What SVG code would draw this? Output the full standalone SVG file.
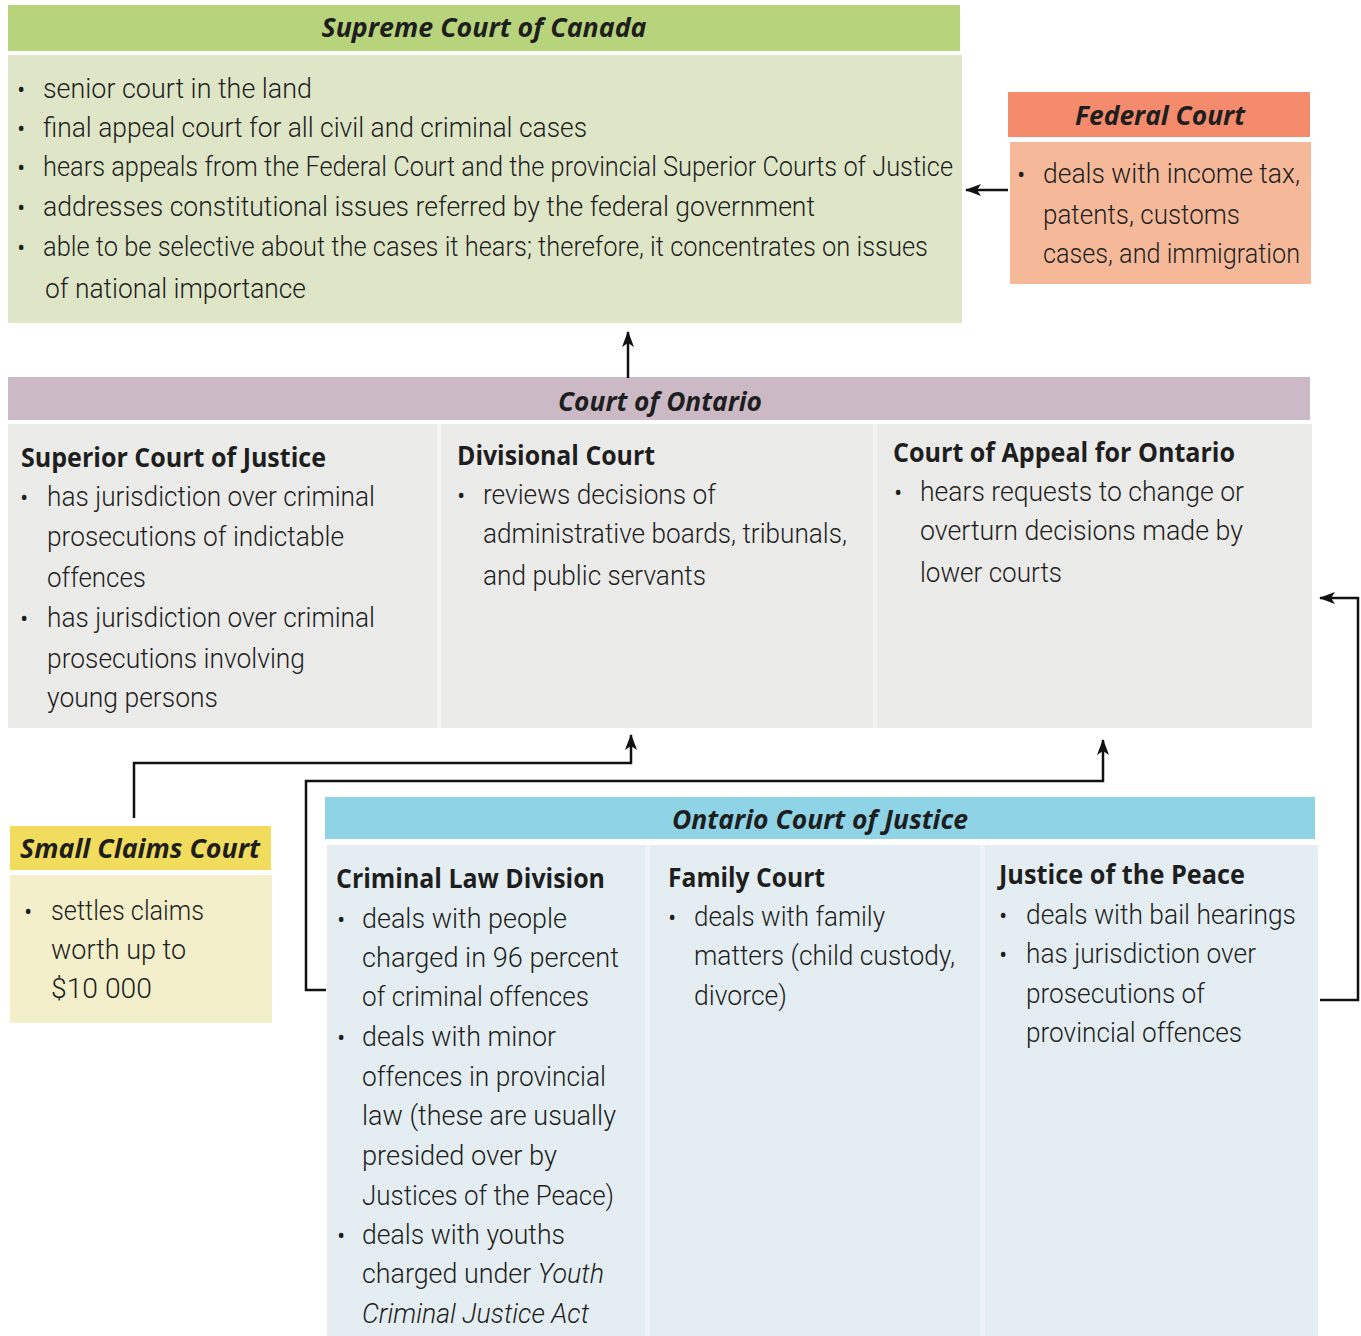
<svg xmlns="http://www.w3.org/2000/svg" width="1361" height="1336" viewBox="0 0 1361 1336">
<defs>
<marker id="ah" viewBox="0 0 16 12" refX="15" refY="6" markerWidth="16" markerHeight="12" markerUnits="userSpaceOnUse" orient="auto">
<path d="M0,0 L16,6 L0,12 L4,6 Z" fill="#111"/>
</marker>
<style>
text{fill:#1e1e1e;font-family:"Open Sans","Liberation Sans",sans-serif}
.b{font-family:Roboto,"Open Sans",sans-serif;font-size:27px;font-weight:300}
.t{font-size:27px;font-weight:700;font-style:italic;text-anchor:middle}
.h{font-size:26px;font-weight:700}
.d{font-size:22px}
.c{fill:none;stroke:#111;stroke-width:2.5}
</style>
</defs>
<rect width="1361" height="1336" fill="#ffffff"/>

<g id="supreme">
<rect x="8" y="5" width="952" height="46" fill="#b7d47c"/>
<rect x="8" y="55" width="954" height="268" fill="#dfe6c8"/>
<text class="t" x="484" y="37" textLength="325" lengthAdjust="spacingAndGlyphs">Supreme Court of Canada</text>
<text class="d" x="17" y="97">•</text>
<text class="b" x="43" y="98" textLength="269" lengthAdjust="spacingAndGlyphs">senior court in the land</text>
<text class="d" x="17" y="136">•</text>
<text class="b" x="43" y="137" textLength="544" lengthAdjust="spacingAndGlyphs">final appeal court for all civil and criminal cases</text>
<text class="d" x="17" y="175">•</text>
<text class="b" x="43" y="176" textLength="910" lengthAdjust="spacingAndGlyphs">hears appeals from the Federal Court and the provincial Superior Courts of Justice</text>
<text class="d" x="17" y="215">•</text>
<text class="b" x="43" y="216" textLength="772" lengthAdjust="spacingAndGlyphs">addresses constitutional issues referred by the federal government</text>
<text class="d" x="17" y="255">•</text>
<text class="b" x="43" y="256" textLength="885" lengthAdjust="spacingAndGlyphs">able to be selective about the cases it hears; therefore, it concentrates on issues</text>
<text class="b" x="45" y="298" textLength="261" lengthAdjust="spacingAndGlyphs">of national importance</text>
</g>

<g id="federal">
<rect x="1008" y="92" width="302" height="45" fill="#f38b6c"/>
<rect x="1010" y="142" width="301" height="142" fill="#f5b999"/>
<text class="t" x="1160" y="125" textLength="170" lengthAdjust="spacingAndGlyphs">Federal Court</text>
<text class="d" x="1017" y="182">•</text>
<text class="b" x="1043" y="183" textLength="257" lengthAdjust="spacingAndGlyphs">deals with income tax,</text>
<text class="b" x="1043" y="224" textLength="197" lengthAdjust="spacingAndGlyphs">patents, customs</text>
<text class="b" x="1043" y="263" textLength="257" lengthAdjust="spacingAndGlyphs">cases, and immigration</text>
</g>

<g id="court-of-ontario">
<rect x="8" y="377" width="1302" height="43" fill="#cbbac6"/>
<rect x="8" y="424" width="1304" height="304" fill="#ebebe9"/>
<rect x="437" y="424" width="4" height="304" fill="#f3f3f1"/>
<rect x="873" y="424" width="4" height="304" fill="#f3f3f1"/>
<text class="t" x="660" y="411" textLength="204" lengthAdjust="spacingAndGlyphs">Court of Ontario</text>
</g>

<g id="superior-court">
<text class="h" x="21" y="467" textLength="305" lengthAdjust="spacingAndGlyphs">Superior Court of Justice</text>
<text class="d" x="20" y="505">•</text>
<text class="b" x="47" y="506" textLength="328" lengthAdjust="spacingAndGlyphs">has jurisdiction over criminal</text>
<text class="b" x="47" y="546" textLength="297" lengthAdjust="spacingAndGlyphs">prosecutions of indictable</text>
<text class="b" x="47" y="587" textLength="99" lengthAdjust="spacingAndGlyphs">offences</text>
<text class="d" x="20" y="626">•</text>
<text class="b" x="47" y="627" textLength="328" lengthAdjust="spacingAndGlyphs">has jurisdiction over criminal</text>
<text class="b" x="47" y="668" textLength="258" lengthAdjust="spacingAndGlyphs">prosecutions involving</text>
<text class="b" x="47" y="707" textLength="171" lengthAdjust="spacingAndGlyphs">young persons</text>
</g>

<g id="divisional-court">
<text class="h" x="457" y="465" textLength="198" lengthAdjust="spacingAndGlyphs">Divisional Court</text>
<text class="d" x="457" y="503">•</text>
<text class="b" x="483" y="504" textLength="233" lengthAdjust="spacingAndGlyphs">reviews decisions of</text>
<text class="b" x="483" y="543" textLength="364" lengthAdjust="spacingAndGlyphs">administrative boards, tribunals,</text>
<text class="b" x="483" y="585" textLength="223" lengthAdjust="spacingAndGlyphs">and public servants</text>
</g>

<g id="court-of-appeal">
<text class="h" x="893" y="462" textLength="342" lengthAdjust="spacingAndGlyphs">Court of Appeal for Ontario</text>
<text class="d" x="894" y="500">•</text>
<text class="b" x="920" y="501" textLength="324" lengthAdjust="spacingAndGlyphs">hears requests to change or</text>
<text class="b" x="920" y="540" textLength="323" lengthAdjust="spacingAndGlyphs">overturn decisions made by</text>
<text class="b" x="920" y="582" textLength="142" lengthAdjust="spacingAndGlyphs">lower courts</text>
</g>

<g id="ontario-court-of-justice">
<rect x="325" y="797" width="990" height="42" fill="#8fd4e6"/>
<rect x="327" y="845" width="991" height="491" fill="#e4eef2"/>
<rect x="645" y="845" width="5" height="491" fill="#edf3f6"/>
<rect x="980" y="845" width="5" height="491" fill="#edf3f6"/>
<text class="t" x="820" y="829" textLength="296" lengthAdjust="spacingAndGlyphs">Ontario Court of Justice</text>
</g>

<g id="criminal-law-division">
<text class="h" x="336" y="888" textLength="269" lengthAdjust="spacingAndGlyphs">Criminal Law Division</text>
<text class="d" x="337" y="927">•</text>
<text class="b" x="362" y="928" textLength="205" lengthAdjust="spacingAndGlyphs">deals with people</text>
<text class="b" x="362" y="967" textLength="257" lengthAdjust="spacingAndGlyphs">charged in 96 percent</text>
<text class="b" x="362" y="1006" textLength="227" lengthAdjust="spacingAndGlyphs">of criminal offences</text>
<text class="d" x="337" y="1045">•</text>
<text class="b" x="362" y="1046" textLength="194" lengthAdjust="spacingAndGlyphs">deals with minor</text>
<text class="b" x="362" y="1086" textLength="244" lengthAdjust="spacingAndGlyphs">offences in provincial</text>
<text class="b" x="362" y="1125" textLength="254" lengthAdjust="spacingAndGlyphs">law (these are usually</text>
<text class="b" x="362" y="1165" textLength="195" lengthAdjust="spacingAndGlyphs">presided over by</text>
<text class="b" x="362" y="1205" textLength="252" lengthAdjust="spacingAndGlyphs">Justices of the Peace)</text>
<text class="d" x="337" y="1243">•</text>
<text class="b" x="362" y="1244" textLength="203" lengthAdjust="spacingAndGlyphs">deals with youths</text>
<text class="b" x="362" y="1283" textLength="242" lengthAdjust="spacingAndGlyphs">charged under <tspan font-style="italic">Youth</tspan></text>
<text class="b" x="362" y="1323" font-style="italic" textLength="227" lengthAdjust="spacingAndGlyphs">Criminal Justice Act</text>
</g>

<g id="family-court">
<text class="h" x="668" y="887" textLength="157" lengthAdjust="spacingAndGlyphs">Family Court</text>
<text class="d" x="668" y="925">•</text>
<text class="b" x="694" y="926" textLength="191" lengthAdjust="spacingAndGlyphs">deals with family</text>
<text class="b" x="694" y="965" textLength="261" lengthAdjust="spacingAndGlyphs">matters (child custody,</text>
<text class="b" x="694" y="1005" textLength="93" lengthAdjust="spacingAndGlyphs">divorce)</text>
</g>

<g id="justice-of-the-peace">
<text class="h" x="999" y="884" textLength="246" lengthAdjust="spacingAndGlyphs">Justice of the Peace</text>
<text class="d" x="999" y="923">•</text>
<text class="b" x="1026" y="924" textLength="270" lengthAdjust="spacingAndGlyphs">deals with bail hearings</text>
<text class="d" x="999" y="962">•</text>
<text class="b" x="1026" y="963" textLength="230" lengthAdjust="spacingAndGlyphs">has jurisdiction over</text>
<text class="b" x="1026" y="1003" textLength="179" lengthAdjust="spacingAndGlyphs">prosecutions of</text>
<text class="b" x="1026" y="1042" textLength="216" lengthAdjust="spacingAndGlyphs">provincial offences</text>
</g>

<g id="small-claims-court">
<rect x="10" y="826" width="261" height="44" fill="#f1dc5e"/>
<rect x="10" y="875" width="262" height="148" fill="#f3efca"/>
<text class="t" x="140" y="858" textLength="240" lengthAdjust="spacingAndGlyphs">Small Claims Court</text>
<text class="d" x="24" y="919">•</text>
<text class="b" x="51" y="920" textLength="153" lengthAdjust="spacingAndGlyphs">settles claims</text>
<text class="b" x="51" y="959" textLength="135" lengthAdjust="spacingAndGlyphs">worth up to</text>
<text class="b" x="51" y="998" textLength="101" lengthAdjust="spacingAndGlyphs">$10 000</text>
</g>

<g id="connectors">
<path class="c" d="M1008,190 H966" marker-end="url(#ah)"/>
<path class="c" d="M628,378 V332" marker-end="url(#ah)"/>
<path class="c" d="M134,818 V763 H631 V735" marker-end="url(#ah)"/>
<path class="c" d="M326,990 H306 V781 H1103 V740" marker-end="url(#ah)"/>
<path class="c" d="M1320,1000 H1358 V598 H1320" marker-end="url(#ah)"/>
</g>
</svg>
